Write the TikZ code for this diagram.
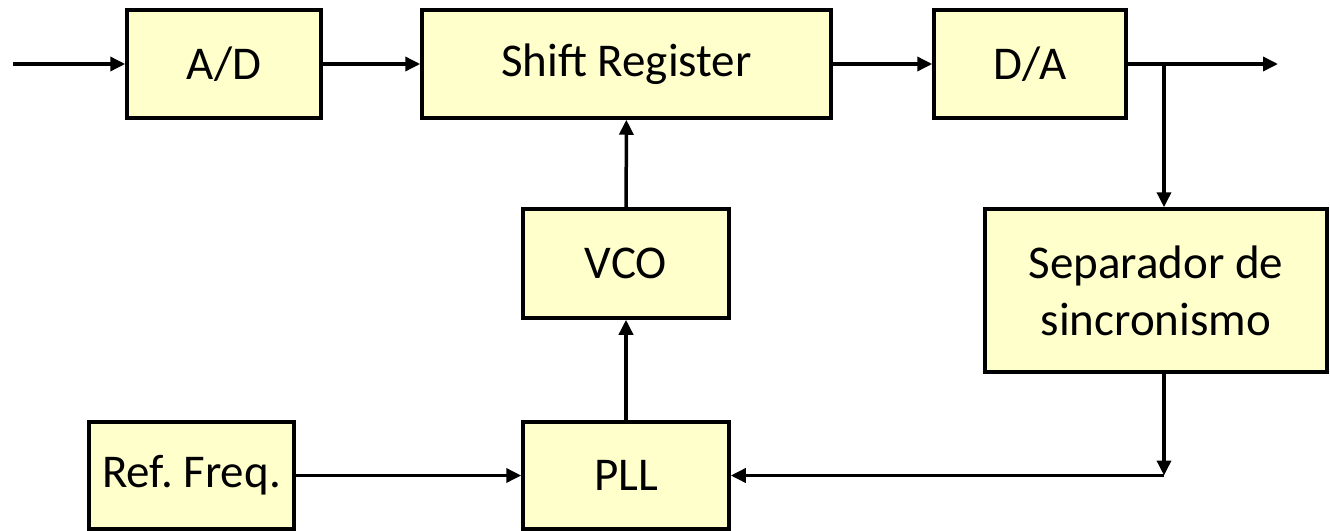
\documentclass[tikz,border=0pt]{standalone}
\usepackage{fontspec}
\setmainfont{Carlito}
\usepackage{xcolor}
\usetikzlibrary{arrows.meta,positioning,calc}
\definecolor{boxfill}{HTML}{FFFFCC}

\begin{document}
\begin{tikzpicture}[x=1pt, y=-1pt, line width=3.5pt,
  every node/.style={rectangle, draw, fill=boxfill, inner sep=0pt, align=center, font=\fontsize{47}{57}\selectfont},
  link/.style={-{Triangle[length=15pt,width=14pt]}}]

\useasboundingbox (0,0) rectangle (1330,530);

% top row
\node[minimum width=194, minimum height=108] (AD) at (224,64) {A/D};
\node[minimum width=409, minimum height=108] (SR) at (626.5,64) {Shift Register};
\node[minimum width=192, minimum height=108] (DA) at (1030,64) {D/A};

% middle
\node[minimum width=206, minimum height=109] (VCO) at (626,263.5) {VCO};
\node[minimum width=342, minimum height=163] (SEP) at (1156,290.5) {Separador de\\sincronismo};

% bottom row
\node[minimum width=205, minimum height=107] (REF) at (191.5,475.5) {Ref.\ Freq.};
\node[minimum width=206, minimum height=107] (PLL) at (626,475.5) {PLL};

\coordinate (in) at (13,64);
\coordinate (out) at (1278,64);
\coordinate (tap) at (1164,64);
\coordinate (corner) at (1164,475.5);

\draw[link] (in) -- (AD);
\draw[link] (AD) -- (SR);
\draw[link] (SR) -- (DA);
\draw[link] (DA) -- (out);
\draw[link] (tap) -- (tap |- SEP.north);
\draw[link] (SEP.south -| tap) -- (corner);
\draw[link] (corner) -- (PLL);
\draw[link] (REF) -- (PLL);
\draw[link] (PLL) -- (VCO);
\draw[link] (VCO) -- (SR);

\end{tikzpicture}
\end{document}
